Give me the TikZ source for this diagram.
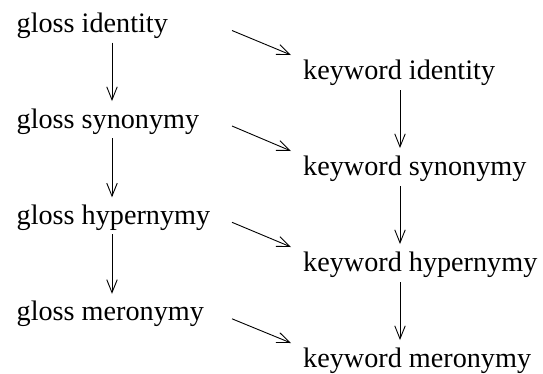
\documentclass[tikz,border=0pt]{standalone}
\usepackage{fontspec}
\setmainfont{Liberation Serif}
\usetikzlibrary{arrows.meta}
\tikzset{
  lbl/.style={anchor=base west, inner sep=0pt, font=\fontsize{28.2}{34}\selectfont},
  arr/.style={line width=0.9pt, -{Straight Barb[length=13pt,width=10.5pt,line width=0.9pt]}}
}
\begin{document}
\begin{tikzpicture}[x=1pt,y=-1pt]
\useasboundingbox (0,0) rectangle (543,373);
\node[lbl] (g1) at (16.5,32.5) {gloss identity};
\node[lbl] (g2) at (16.5,128) {gloss synonymy};
\node[lbl] (g3) at (16.5,224.3) {gloss hypernymy};
\node[lbl] (g4) at (16.5,320.8) {gloss meronymy};
\node[lbl] (k1) at (303,79) {keyword identity};
\node[lbl] (k2) at (303,175) {keyword synonymy};
\node[lbl] (k3) at (303,271) {keyword hypernymy};
\node[lbl] (k4) at (303,367) {keyword meronymy};
\foreach \a/\b in {g1/g2,g2/g3,g3/g4}
  \draw[arr] ([shift={(95.5,10)}]\a.base west) -- ([shift={(95.5,-27)}]\b.base west);
\foreach \a/\b in {k1/k2,k2/k3,k3/k4}
  \draw[arr] ([shift={(97,11)}]\a.base west) -- ([shift={(97,-27)}]\b.base west);
\foreach \a/\b in {g1/k1,g2/k2,g3/k3,g4/k4}
  \draw[arr] ([shift={(215.5,-2)}]\a.base west) -- ([shift={(-12,-24)}]\b.base west);
\end{tikzpicture}
\end{document}
